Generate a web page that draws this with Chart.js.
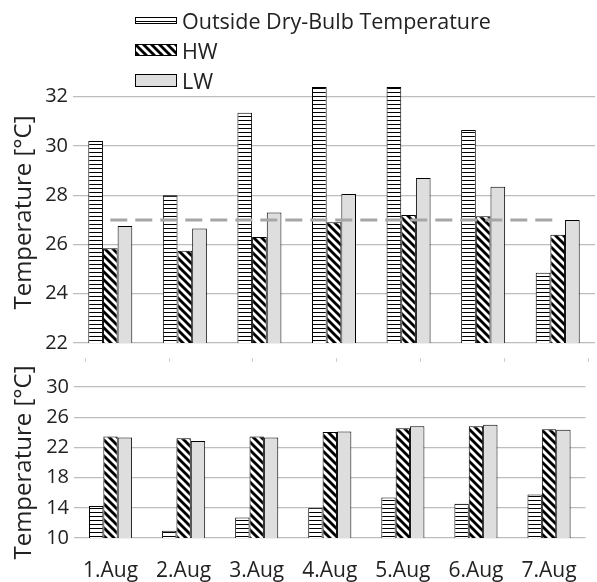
<!DOCTYPE html>
<html>
<head>
<meta charset="utf-8">
<script src="https://cdn.jsdelivr.net/npm/chart.js@4.4.0/dist/chart.umd.min.js"></script>
<style>
  body { margin: 0; background: #fff; font-family: "Open Sans", sans-serif; }
  #wrap { position: relative; width: 597px; height: 582px; }
  #dayChart { position: absolute; left: 0; top: 0; }
  #nightChart { position: absolute; left: 0; top: 360px; }
  .legend { position: absolute; left: 135px; top: 5px; z-index: 2; }
  .legend div { height: 30px; display: flex; align-items: center; font-size: 21.5px; color: #222; }
  .legend canvas { margin-right: 5px; }
</style>
</head>
<body>
<div id="wrap">
  <canvas id="dayChart" width="597" height="366"></canvas>
  <canvas id="nightChart" width="597" height="222"></canvas>
  <div class="legend">
    <div><canvas id="sw0" width="42" height="7"></canvas><span>Outside Dry-Bulb Temperature</span></div>
    <div><canvas id="sw1" width="42" height="12"></canvas><span>HW</span></div>
    <div><canvas id="sw2" width="42" height="13"></canvas><span>LW</span></div>
  </div>
</div>
<script>
// daily maximum (top) and nightly minimum (bottom) temperatures
const days = ["1.Aug", "2.Aug", "3.Aug", "4.Aug", "5.Aug", "6.Aug", "7.Aug"];

const outsideDay = [30.2, 28.0, 31.35, 32.4, 32.4, 30.65, 24.85];
const hwDay = [25.85, 25.75, 26.3, 26.9, 27.2, 27.15, 26.4];
const lwDay = [26.75, 26.65, 27.3, 28.05, 28.7, 28.35, 27.0];
const limitDay = [27, 27, 27, 27, 27, 27, 27];

const outsideNight = [14.25, 10.95, 12.7, 14.0, 15.35, 14.55, 15.75];
const hwNight = [23.45, 23.2, 23.45, 24.05, 24.55, 24.8, 24.4];
const lwNight = [23.3, 22.85, 23.3, 24.1, 24.8, 25.0, 24.35];

const dayTicks = [22, 24, 26, 28, 30, 32];
const nightTicks = [10, 14, 18, 22, 26, 30];
const seriesNames = ["Outside Dry-Bulb Temperature", "HW", "LW"];

Chart.defaults.font.family = '"Open Sans", sans-serif';
Chart.defaults.color = "#222";

// fill patterns
const patCtx = document.createElement("canvas").getContext("2d");

function stripesTile() {
  const c = document.createElement("canvas");
  c.width = 4; c.height = 4;
  const g = c.getContext("2d");
  g.fillStyle = "#fff"; g.fillRect(0, 0, 4, 4);
  g.fillStyle = "#000"; g.fillRect(0, 0, 4, 1);
  return c;
}

function diagTile() {
  const c = document.createElement("canvas");
  c.width = 8; c.height = 8;
  const g = c.getContext("2d");
  g.fillStyle = "#fff"; g.fillRect(0, 0, 8, 8);
  g.strokeStyle = "#000";
  g.lineWidth = 2.9;
  for (let k = -8; k <= 8; k += 8) {
    g.beginPath();
    g.moveTo(k - 2, -2);
    g.lineTo(k + 10, 10);
    g.stroke();
  }
  return c;
}

const outsideFill = patCtx.createPattern(stripesTile(), "repeat");
const hwFill = patCtx.createPattern(diagTile(), "repeat");
const lwFill = "#dedede";
const fills = [outsideFill, hwFill, lwFill];

// legend swatches
fills.forEach((f, i) => {
  const c = document.getElementById("sw" + i);
  const g = c.getContext("2d");
  g.fillStyle = f;
  g.fillRect(0, 0, c.width, c.height);
  g.strokeStyle = "#000";
  g.lineWidth = 1;
  g.strokeRect(0.5, 0.5, c.width - 1, c.height - 1);
});

function barSet(i, data) {
  return {
    type: "bar",
    label: seriesNames[i],
    data: data,
    backgroundColor: fills[i],
    borderColor: "#000",
    borderWidth: 1,
    borderSkipped: false,
    categoryPercentage: 0.59,
    barPercentage: 1.0,
    order: 1
  };
}

const gridColor = "#bdbdbd";

function yAxis(min, max, ticksList, width) {
  return {
    min: min,
    max: max,
    afterBuildTicks: (s) => { s.ticks = ticksList.map(v => ({ value: v })); },
    afterFit: (s) => { s.width = width; },
    border: { display: false },
    grid: { color: gridColor, lineWidth: 1.2, drawTicks: false },
    ticks: { padding: 5, font: { size: 20 }, color: "#222", autoSkip: false },
    title: { display: true, text: "Temperature [°C]", font: { size: 24 }, color: "#222", padding: { top: 10, bottom: 0 } }
  };
}

new Chart(document.getElementById("dayChart"), {
  data: {
    labels: days,
    datasets: [
      {
        type: "line",
        label: "limit",
        data: limitDay,
        borderColor: "#a6a6a6",
        borderWidth: 3,
        borderDash: [17, 8],
        pointRadius: 0,
        fill: false,
        order: 0
      },
      barSet(0, outsideDay),
      barSet(1, hwDay),
      barSet(2, lwDay)
    ]
  },
  options: {
    responsive: false,
    animation: false,
    devicePixelRatio: 1,
    layout: { padding: { left: 0, right: 2, top: 82, bottom: 4 } },
    plugins: { legend: { display: false }, tooltip: { enabled: false } },
    scales: {
      x: { type: "category", display: false },
      x2: {
        type: "linear",
        position: "bottom",
        min: -0.147,
        max: 6.08,
        afterBuildTicks: (s) => { s.ticks = days.map((d, i) => ({ value: i })); },
        border: { display: false },
        ticks: { display: false },
        grid: {
          drawOnChartArea: false,
          drawTicks: true,
          tickLength: 19,
          tickColor: "#cfcfcf",
          tickWidth: 1,
          tickBorderDash: [0, 15, 4, 40]
        }
      },
      y: yAxis(22, 32.6, dayTicks, 73)
    }
  }
});

new Chart(document.getElementById("nightChart"), {
  data: {
    labels: days,
    datasets: [
      barSet(0, outsideNight),
      barSet(1, hwNight),
      barSet(2, lwNight)
    ]
  },
  options: {
    responsive: false,
    animation: false,
    devicePixelRatio: 1,
    layout: { padding: { left: 0, right: 6, top: 27, bottom: 0 } },
    plugins: { legend: { display: false }, tooltip: { enabled: false } },
    scales: {
      x: {
        type: "category",
        afterFit: (s) => { s.height = 44; },
        border: { display: false },
        grid: { display: false, drawTicks: false },
        ticks: { padding: 20, font: { size: 21 }, color: "#222", maxRotation: 0, autoSkip: false }
      },
      y: yAxis(10, 30, nightTicks, 74)
    }
  }
});
</script>
</body>
</html>
